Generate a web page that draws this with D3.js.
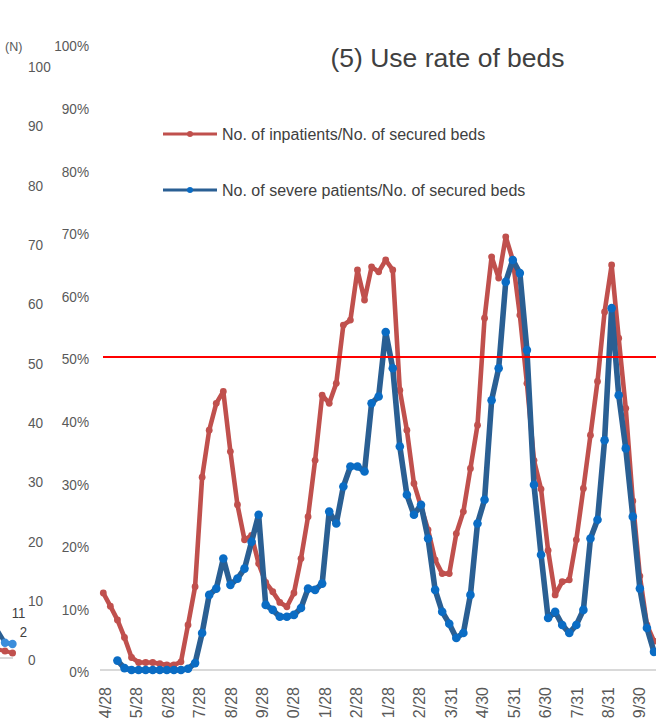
<!DOCTYPE html>
<html><head><meta charset="utf-8">
<script src="https://cdn.jsdelivr.net/npm/d3@7"></script>
<style>
html,body{margin:0;padding:0;background:#fff;overflow:hidden;}
svg{display:block;}
</style></head>
<body>
<svg id="c" width="656" height="721"></svg>
<script>
// ---- data ----
// month labels as visible in the (cropped) reference
const monthLabels = ["4/28","5/28","6/28","7/28","8/28","9/28","0/28","1/28","2/28","1/28","2/28","3/31","4/30","5/31","6/30","7/31","8/31","9/30"];
const pctTicks = [0,10,20,30,40,50,60,70,80,90,100];
const nTicks = [0,10,20,30,40,50,60,70,80,90,100];
const threshold = 50;
const seriesNames = ["No. of inpatients/No. of secured beds","No. of severe patients/No. of secured beds"];
// weekly values (%), one entry per week
const inpatientRate = [12.3,10.2,8.0,5.2,2.0,1.2,1.2,1.2,1.0,0.8,0.8,1.3,7.2,13.3,30.8,38.3,42.6,44.5,34.9,26.4,
  20.8,21.5,17.0,14.0,12.5,10.8,10.1,12.3,17.8,24.5,33.5,43.9,42.6,45.8,55.1,55.9,63.9,59.1,64.4,63.6,
  65.5,63.9,44.7,38.3,29.8,26.1,22.4,17.6,15.4,15.4,21.8,25.3,32.2,39.1,56.2,66.0,62.6,69.2,65.5,56.7,
  45.8,33.5,28.9,19.1,12.0,14.1,14.4,20.8,29.0,37.5,46.1,57.2,64.7,53.0,41.8,27.0,15.0,7.2,4.6];
const severeRate = [null,null,1.5,0.3,0,0,0,0,0,0,0,0,0.2,1.1,5.9,12.0,13.0,17.8,13.6,14.6,
  16.2,20.5,24.8,10.4,9.6,8.5,8.5,8.8,9.9,13.0,12.8,13.8,25.3,23.4,29.3,32.5,32.5,31.7,42.6,43.7,
  54.0,48.2,35.7,28.0,24.8,26.4,21.0,12.8,9.3,7.4,5.1,5.9,12.0,23.4,27.2,43.1,48.2,62.0,65.5,63.4,
  51.1,29.6,18.4,8.3,9.3,7.2,5.9,7.2,9.6,21.0,24.0,36.7,57.8,43.9,35.4,24.5,13.0,6.7,2.9];
// remnants of the neighbouring (left) panel, counts (N)
const leftInpatients = [1.8,1.5,1.2];
const leftSevere = [5.0,2.9,2.7];
const leftLabels = ["11","2"];

// ---- layout ----
const svg = d3.select("#c");
const W = 656, H = 721;
const x = d3.scaleLinear().domain([0, inpatientRate.length - 1]).range([103.3, 654]);
const y = d3.scaleLinear().domain([0, 100]).range([670, 44]);
const xLab = d3.scalePoint().domain(d3.range(monthLabels.length)).range([x(0.25), x(76)]);
const yN = d3.scaleLinear().domain([0, 100]).range([660, 66.7]);
const xL = d3.scaleLinear().domain([0, leftSevere.length - 1]).range([-2.5, 12.5]);

const textFont = "'Liberation Sans',Arial,sans-serif";
const grayText = "#595959";
const redC = "#C0504D", blueLine = "#2A5F93", blueDot = "#0A6CC4";
const narrow = 0.88;

// baseline
svg.append("line").attr("x1", 100).attr("x2", W).attr("y1", y(0)).attr("y2", y(0))
  .attr("stroke", "#D9D9D9").attr("stroke-width", 2);

// right percent axis labels
svg.append("g").selectAll("text").data(pctTicks).join("text")
  .attr("transform", d => `translate(89,${y(d) + 2}) scale(${narrow},1)`)
  .attr("dy", "0.35em").attr("text-anchor", "end").attr("font-family", textFont).attr("font-size", 15.5)
  .attr("fill", grayText).text(d => d + "%");

// left N axis labels
svg.append("g").selectAll("text").data(nTicks).join("text")
  .attr("transform", d => `translate(28,${yN(d)}) scale(${narrow},1)`)
  .attr("dy", "0.35em").attr("text-anchor", "start").attr("font-family", textFont).attr("font-size", 15.5)
  .attr("fill", grayText).text(d => d);
svg.append("text").attr("x", 5).attr("y", 51).attr("font-family", textFont).attr("font-size", 12.5)
  .attr("fill", grayText).text("(N)");

// x labels (rotated)
svg.append("g").selectAll("text").data(monthLabels).join("text")
  .attr("transform", (d, i) => `translate(${xLab(i)},687) rotate(-90)`)
  .attr("dy", "0.35em").attr("text-anchor", "end")
  .attr("font-family", textFont).attr("font-size", 16).attr("fill", grayText).text(d => d);

// title
svg.append("text").attr("x", 447.5).attr("y", 58).attr("dy", "0.35em").attr("text-anchor", "middle")
  .attr("font-family", textFont).attr("font-size", 26.5).attr("fill", "#404040")
  .text("(5) Use rate of beds");

// left panel remnants
svg.append("line").attr("x1", 0).attr("x2", 13).attr("y1", yN(0) - 2).attr("y2", yN(0) - 2)
  .attr("stroke", "#D9D9D9").attr("stroke-width", 2);
const lineL = d3.line().x((d, i) => xL(i)).y(d => yN(d));
svg.append("path").datum(leftInpatients).attr("d", lineL).attr("fill", "none")
  .attr("stroke", redC).attr("stroke-width", 4);
svg.append("g").selectAll("circle").data(leftInpatients.slice(1)).join("circle")
  .attr("cx", (d, i) => xL(i + 1)).attr("cy", d => yN(d)).attr("r", 3.5).attr("fill", redC);
svg.append("path").datum(leftSevere).attr("d", lineL).attr("fill", "none")
  .attr("stroke", blueLine).attr("stroke-width", 4.5);
svg.append("g").selectAll("circle").data(leftSevere.slice(1)).join("circle")
  .attr("cx", (d, i) => xL(i + 1)).attr("cy", d => yN(d)).attr("r", 4.2).attr("fill", "#3B8DDB");
svg.append("text").attr("transform", `translate(${xL(2) + 6},${yN(leftSevere[2]) - 31}) scale(${narrow},1)`)
  .attr("dy", "0.35em").attr("text-anchor", "middle").attr("font-family", textFont).attr("font-size", 15)
  .attr("fill", "#404040").text(leftLabels[0]);
svg.append("text").attr("transform", `translate(${xL(2) + 11},${yN(leftSevere[2]) - 12}) scale(${narrow},1)`)
  .attr("dy", "0.35em").attr("text-anchor", "middle").attr("font-family", textFont).attr("font-size", 15)
  .attr("fill", "#404040").text(leftLabels[1]);

// series
const line = d3.line().defined(d => d != null).x((d, i) => x(i)).y(d => y(d));
const gR = svg.append("g");
gR.append("path").datum(inpatientRate).attr("d", line).attr("fill", "none")
  .attr("stroke", redC).attr("stroke-width", 4.6).attr("stroke-linejoin", "round");
gR.selectAll("circle").data(inpatientRate).join("circle")
  .attr("cx", (d, i) => x(i)).attr("cy", d => y(d)).attr("r", 3.4).attr("fill", redC);

const gB = svg.append("g");
gB.append("path").datum(severeRate).attr("d", line).attr("fill", "none")
  .attr("stroke", blueLine).attr("stroke-width", 5.6).attr("stroke-linejoin", "round");
gB.selectAll("circle").data(severeRate.map((v, i) => ({v, i})).filter(d => d.v != null)).join("circle")
  .attr("cx", d => x(d.i)).attr("cy", d => y(d.v)).attr("r", 4.3).attr("fill", blueDot);

// 50% threshold line
svg.append("line").attr("x1", 103).attr("x2", W).attr("y1", y(threshold)).attr("y2", y(threshold))
  .attr("stroke", "#FF0000").attr("stroke-width", 2.2);

// legend
const leg = svg.append("g");
[[redC, redC, 134, 2.8], [blueLine, blueDot, 190, 3.2]].forEach(([lc, dc, ly, lw], k) => {
  leg.append("line").attr("x1", 163).attr("x2", 217).attr("y1", ly).attr("y2", ly)
    .attr("stroke", lc).attr("stroke-width", lw);
  leg.append("circle").attr("cx", 190).attr("cy", ly).attr("r", 3).attr("fill", dc);
  leg.append("text").attr("x", 222).attr("y", ly).attr("dy", "0.35em")
    .attr("font-family", textFont).attr("font-size", 16).attr("fill", "#404040").text(seriesNames[k]);
});
</script>
</body></html>
